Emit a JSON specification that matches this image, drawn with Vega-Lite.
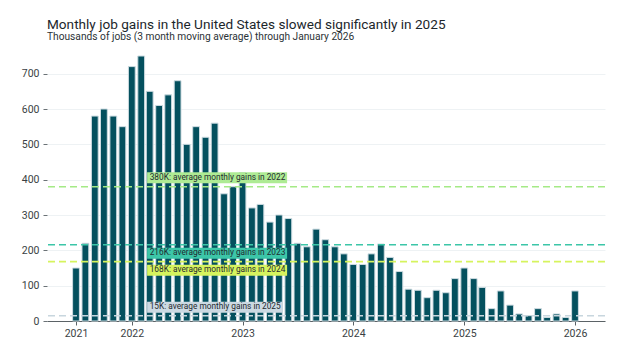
{
  "$schema": "https://vega.github.io/schema/vega-lite/v6.json",
  "autosize": {"type": "none"},
  "padding": {"left": 47, "top": 56, "right": 27, "bottom": 30},
  "width": 558,
  "height": 265,
  "background": "white",
  "config": {
    "font": "Roboto",
    "view": {"stroke": null},
    "axis": {"labelFont": "Roboto", "labelColor": "#3a3f44", "labelFontSize": 10.5},
    "axisY": {"domain": false, "gridColor": "#eef2f4", "tickColor": "#6b7276", "tickSize": 4, "labelPadding": 4, "labelOverlap": false, "tickCount": 8}
  },
  "title": {
    "text": "Monthly job gains in the United States slowed significantly in 2025",
    "subtitle": "Thousands of jobs (3 month moving average) through January 2026",
    "anchor": "start",
    "frame": "group",
    "offset": 13,
    "font": "Roboto",
    "fontSize": 13.6,
    "fontWeight": 400,
    "color": "#1c262b",
    "subtitleFont": "Roboto",
    "subtitleFontSize": 10.2,
    "subtitleColor": "#2b3236",
    "subtitlePadding": 1
  },
  "datasets": {
    "jobs": [
      {"month": "2021-07-01T00:00:00", "gain": 150},
      {"month": "2021-08-01T00:00:00", "gain": 220},
      {"month": "2021-09-01T00:00:00", "gain": 580},
      {"month": "2021-10-01T00:00:00", "gain": 600},
      {"month": "2021-11-01T00:00:00", "gain": 580},
      {"month": "2021-12-01T00:00:00", "gain": 550},
      {"month": "2022-01-01T00:00:00", "gain": 720},
      {"month": "2022-02-01T00:00:00", "gain": 750},
      {"month": "2022-03-01T00:00:00", "gain": 650},
      {"month": "2022-04-01T00:00:00", "gain": 610},
      {"month": "2022-05-01T00:00:00", "gain": 640},
      {"month": "2022-06-01T00:00:00", "gain": 680},
      {"month": "2022-07-01T00:00:00", "gain": 500},
      {"month": "2022-08-01T00:00:00", "gain": 550},
      {"month": "2022-09-01T00:00:00", "gain": 520},
      {"month": "2022-10-01T00:00:00", "gain": 560},
      {"month": "2022-11-01T00:00:00", "gain": 360},
      {"month": "2022-12-01T00:00:00", "gain": 380},
      {"month": "2023-01-01T00:00:00", "gain": 420},
      {"month": "2023-02-01T00:00:00", "gain": 320},
      {"month": "2023-03-01T00:00:00", "gain": 330},
      {"month": "2023-04-01T00:00:00", "gain": 280},
      {"month": "2023-05-01T00:00:00", "gain": 300},
      {"month": "2023-06-01T00:00:00", "gain": 290},
      {"month": "2023-07-01T00:00:00", "gain": 220},
      {"month": "2023-08-01T00:00:00", "gain": 210},
      {"month": "2023-09-01T00:00:00", "gain": 260},
      {"month": "2023-10-01T00:00:00", "gain": 230},
      {"month": "2023-11-01T00:00:00", "gain": 210},
      {"month": "2023-12-01T00:00:00", "gain": 190},
      {"month": "2024-01-01T00:00:00", "gain": 160},
      {"month": "2024-02-01T00:00:00", "gain": 160},
      {"month": "2024-03-01T00:00:00", "gain": 190},
      {"month": "2024-04-01T00:00:00", "gain": 218},
      {"month": "2024-05-01T00:00:00", "gain": 180},
      {"month": "2024-06-01T00:00:00", "gain": 140},
      {"month": "2024-07-01T00:00:00", "gain": 90},
      {"month": "2024-08-01T00:00:00", "gain": 87},
      {"month": "2024-09-01T00:00:00", "gain": 66},
      {"month": "2024-10-01T00:00:00", "gain": 87},
      {"month": "2024-11-01T00:00:00", "gain": 80},
      {"month": "2024-12-01T00:00:00", "gain": 120},
      {"month": "2025-01-01T00:00:00", "gain": 150},
      {"month": "2025-02-01T00:00:00", "gain": 120},
      {"month": "2025-03-01T00:00:00", "gain": 95},
      {"month": "2025-04-01T00:00:00", "gain": 35},
      {"month": "2025-05-01T00:00:00", "gain": 85},
      {"month": "2025-06-01T00:00:00", "gain": 45},
      {"month": "2025-07-01T00:00:00", "gain": 20},
      {"month": "2025-08-01T00:00:00", "gain": 15},
      {"month": "2025-09-01T00:00:00", "gain": 35},
      {"month": "2025-10-01T00:00:00", "gain": 10},
      {"month": "2025-11-01T00:00:00", "gain": 20},
      {"month": "2025-12-01T00:00:00", "gain": 10},
      {"month": "2026-01-01T00:00:00", "gain": 85}
    ],
    "averages": [
      {"year": "2022", "avg": 380, "label": "380K: average monthly gains in 2022"},
      {"year": "2023", "avg": 216, "label": "216K: average monthly gains in 2023"},
      {"year": "2024", "avg": 168, "label": "168K: average monthly gains in 2024"},
      {"year": "2025", "avg": 15, "label": "15K: average monthly gains in 2025"}
    ]
  },
  "layer": [
    {
      "data": {"name": "jobs"},
      "mark": {"type": "bar", "width": 6.8, "color": "#04505e", "stroke": "#cddbe1", "strokeWidth": 1},
      "encoding": {
        "x": {
          "field": "month",
          "type": "temporal",
          "scale": {"padding": 0, "domain": [{"year": 2021, "month": 3, "date": 27, "hours": 10}, {"year": 2026, "month": 4, "date": 9, "hours": 22}]},
          "axis": {
            "title": null,
            "values": [
              {"year": 2021, "month": 7, "date": 1},
              {"year": 2022, "month": 1, "date": 1},
              {"year": 2023, "month": 1, "date": 1},
              {"year": 2024, "month": 1, "date": 1},
              {"year": 2025, "month": 1, "date": 1},
              {"year": 2026, "month": 1, "date": 1}
            ],
            "labelExpr": "timeFormat(datum.value, '%Y')",
            "labelOverlap": false,
            "grid": false,
            "domainColor": "#5b6266",
            "tickColor": "#5b6266",
            "tickSize": 4,
            "labelPadding": 3
          }
        },
        "y": {
          "field": "gain",
          "type": "quantitative",
          "scale": {"domain": [0, 750], "nice": false},
          "axis": {"title": null, "values": [0, 100, 200, 300, 400, 500, 600, 700]}
        }
      }
    },
    {
      "data": {"name": "averages"},
      "mark": {"type": "rule", "strokeDash": [7, 4], "strokeWidth": 1.6},
      "encoding": {
        "y": {"field": "avg", "type": "quantitative", "axis": {"title": null, "values": [0, 100, 200, 300, 400, 500, 600, 700]}},
        "color": {
          "field": "year",
          "type": "nominal",
          "scale": {"domain": ["2022", "2023", "2024", "2025"], "range": ["#a4ea86", "#3cc6a8", "#d6f45e", "#c8d6de"]},
          "legend": null
        }
      }
    },
    {
      "data": {"name": "averages"},
      "transform": [{"filter": "datum.avg > 300"}],
      "mark": {"type": "rect", "width": 140, "height": 11, "xOffset": 67.4, "yOffset": -9, "color": "#aeeb94"},
      "encoding": {
        "x": {"datum": {"year": 2022, "month": 3, "date": 1}, "type": "temporal"},
        "y": {"field": "avg", "type": "quantitative", "axis": {"title": null, "values": [0, 100, 200, 300, 400, 500, 600, 700]}}
      }
    },
    {
      "data": {"name": "averages"},
      "transform": [{"filter": "datum.avg < 300 && datum.avg > 100"}],
      "mark": {"type": "rect", "width": 140, "height": 11, "xOffset": 67.4, "yOffset": 8.5},
      "encoding": {
        "x": {"datum": {"year": 2022, "month": 3, "date": 1}, "type": "temporal"},
        "y": {"field": "avg", "type": "quantitative", "axis": {"title": null, "values": [0, 100, 200, 300, 400, 500, 600, 700]}},
        "color": {
          "field": "year",
          "type": "nominal",
          "scale": {"domain": ["2022", "2023", "2024", "2025"], "range": ["#a4ea86", "#3cc6a8", "#d6f45e", "#c8d6de"]},
          "legend": null
        }
      }
    },
    {
      "data": {"name": "averages"},
      "transform": [{"filter": "datum.avg < 100"}],
      "mark": {"type": "rect", "width": 135, "height": 11, "xOffset": 64.9, "yOffset": -8.5, "color": "#cbd9e2"},
      "encoding": {
        "x": {"datum": {"year": 2022, "month": 3, "date": 1}, "type": "temporal"},
        "y": {"field": "avg", "type": "quantitative", "axis": {"title": null, "values": [0, 100, 200, 300, 400, 500, 600, 700]}}
      }
    },
    {
      "data": {"name": "averages"},
      "transform": [{"filter": "datum.avg > 300 || datum.avg < 100"}],
      "mark": {"type": "text", "align": "left", "baseline": "middle", "fontSize": 8.3, "color": "#1f2a30", "yOffset": -8.7},
      "encoding": {
        "x": {"datum": {"year": 2022, "month": 3, "date": 1}, "type": "temporal"},
        "y": {"field": "avg", "type": "quantitative", "axis": {"title": null, "values": [0, 100, 200, 300, 400, 500, 600, 700]}},
        "text": {"field": "label"}
      }
    },
    {
      "data": {"name": "averages"},
      "transform": [{"filter": "datum.avg < 300 && datum.avg > 100"}],
      "mark": {"type": "text", "align": "left", "baseline": "middle", "fontSize": 8.3, "color": "#1f2a30", "yOffset": 8.5},
      "encoding": {
        "x": {"datum": {"year": 2022, "month": 3, "date": 1}, "type": "temporal"},
        "y": {"field": "avg", "type": "quantitative", "axis": {"title": null, "values": [0, 100, 200, 300, 400, 500, 600, 700]}},
        "text": {"field": "label"}
      }
    }
  ]
}
